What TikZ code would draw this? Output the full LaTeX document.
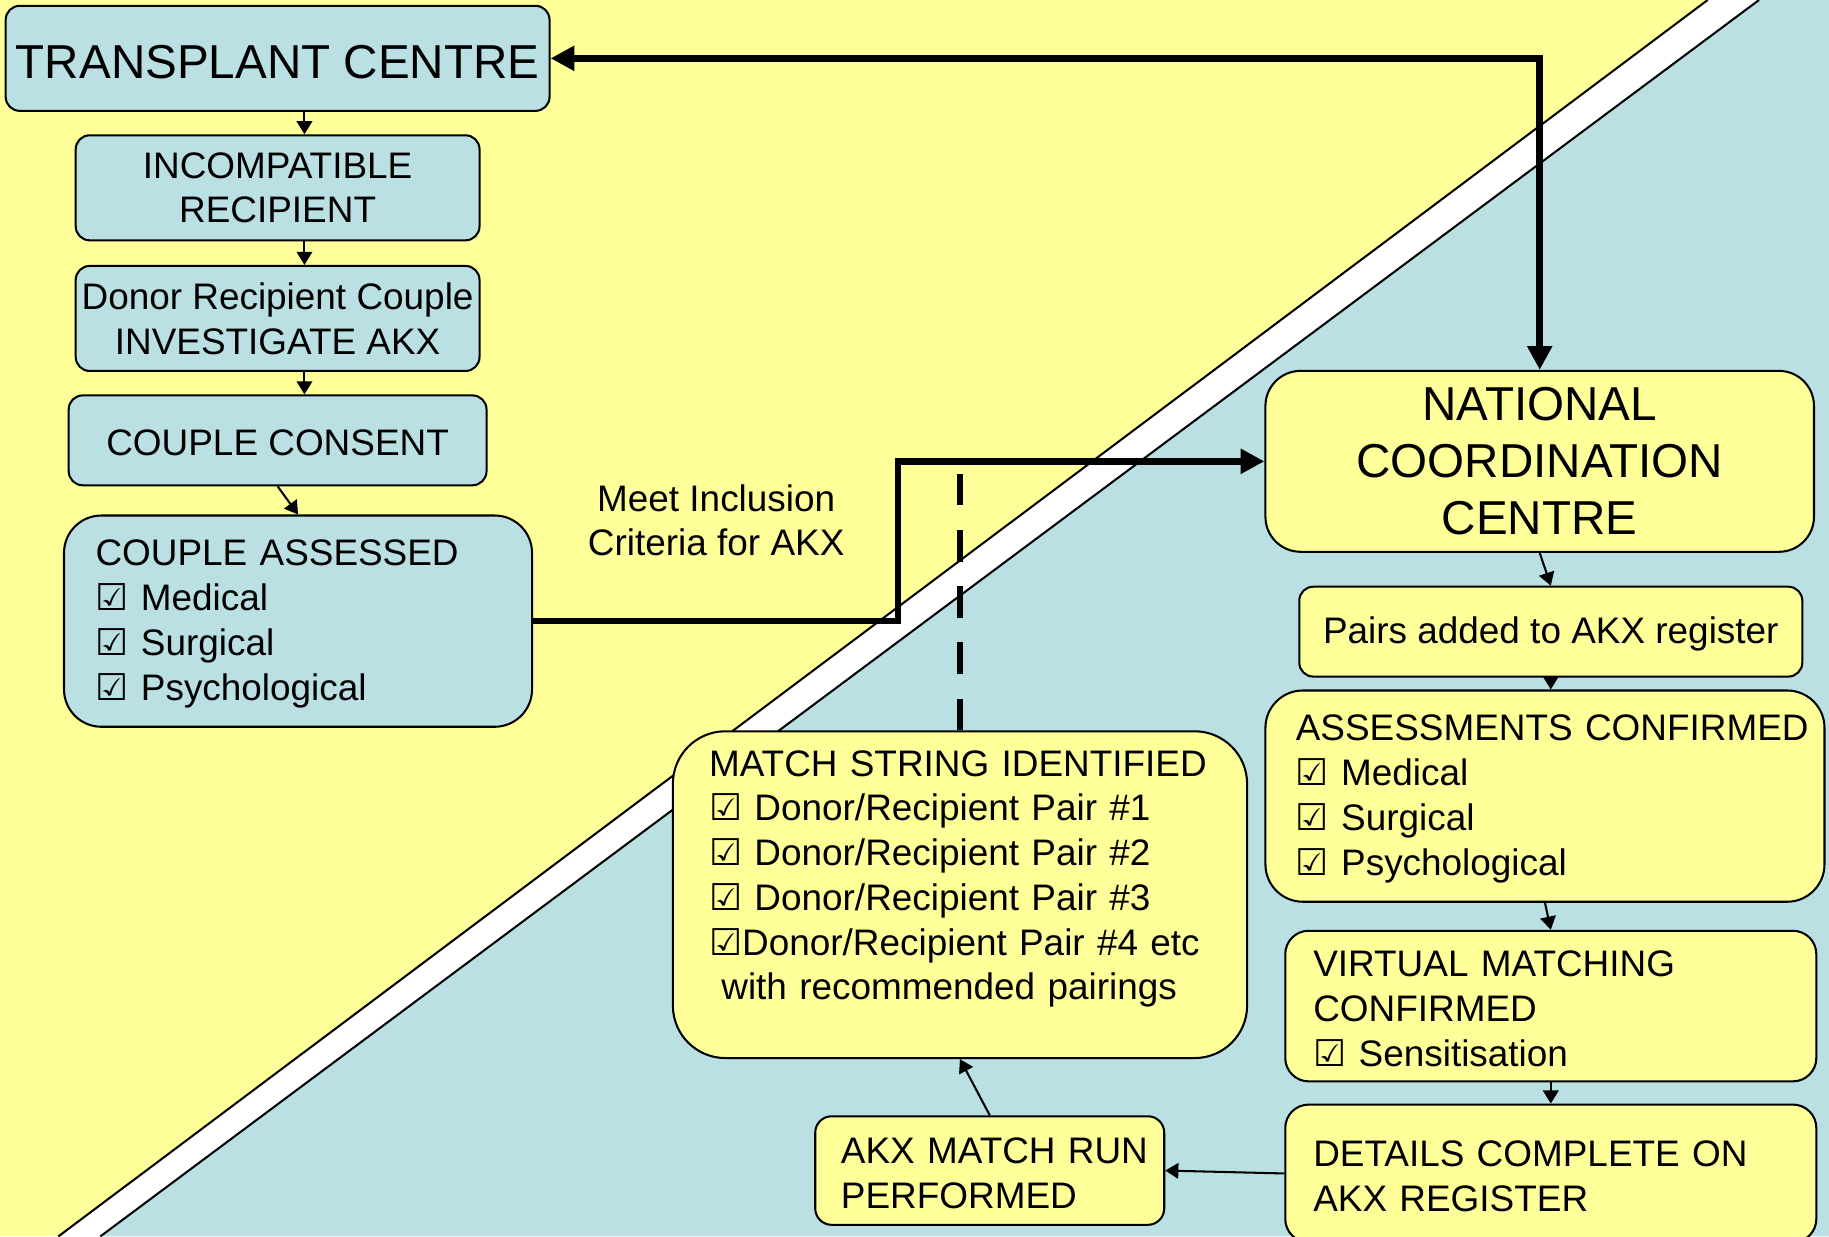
\documentclass[tikz,border=0pt]{standalone}
\usepackage{fontspec}
\setmainfont{Liberation Sans}
\newfontfamily\symfont{DejaVu Sans}
\usetikzlibrary{arrows.meta}
\definecolor{akxyellow}{RGB}{255,255,153}
\definecolor{akxblue}{RGB}{186,224,227}
\newcommand{\chk}{{\symfont\fontsize{9pt}{10.9pt}\selectfont ☑}}

\begin{document}
\begin{tikzpicture}[x=0.01cm, y=-0.01cm,
    every node/.style={font=\fontsize{9pt}{10.9pt}\selectfont,
        execute at begin node=\rule{0pt}{0.85em}},
    big/.style={font=\fontsize{11.6pt}{13.9pt}\selectfont},
    box/.style={draw, line width=0.5pt, rounded corners=0.12cm, inner sep=0pt, align=center},
    bluebox/.style={box, fill=akxblue},
    ylwbox/.style={box, fill=akxyellow},
    list/.style={align=left, text width=#1},
    sarr/.style={-{Triangle[length=3.2pt, width=3.8pt]}, line width=0.5pt},
    arr/.style={-{Triangle[length=5.8pt, width=5.8pt]}, line width=1.6pt},
    dashln/.style={line width=1.6pt, dash pattern=on 7.7pt off 6pt}
]
\clip (0,0) rectangle (1568,1060);
% Background
\fill[akxyellow] (0,0) rectangle (1568,1060);
\fill[akxblue] (86,1060) -- (1508,0) -- (1568,0) -- (1568,1060) -- cycle;
\fill[white] (50,1060) -- (1464,0) -- (1508,0) -- (86,1060) -- cycle;
\draw[line width=0.5pt] (50,1060) -- (1464,0) (86,1060) -- (1508,0);

% Transplant centre side
\node[bluebox, big, minimum width=4.66cm, minimum height=0.90cm] (tc) at (238,50) {TRANSPLANT CENTRE};
\node[bluebox, minimum width=3.46cm, minimum height=0.90cm] (incomp) at (238,161) {INCOMPATIBLE\\RECIPIENT};
\node[bluebox, minimum width=3.46cm, minimum height=0.90cm] (drc) at (238,273) {Donor Recipient Couple\\INVESTIGATE AKX};
\node[bluebox, minimum width=3.58cm, minimum height=0.77cm] (consent) at (238,377.5) {COUPLE CONSENT};
\node[bluebox, list=3.47cm, rounded corners=0.32cm, inner xsep=0.27cm, minimum width=4.01cm, minimum height=1.81cm] (assessed) at (255.5,532.5)
    {COUPLE ASSESSED\\\chk{} Medical\\\chk{} Surgical\\\chk{} Psychological};
\node[align=center] (incl) at (614,446) {Meet Inclusion\\Criteria for AKX};

% National coordination centre side
\node[ylwbox, big, rounded corners=0.30cm, minimum width=4.70cm, minimum height=1.55cm] (ncc) at (1320,395.5) {NATIONAL\\COORDINATION\\CENTRE};
\node[ylwbox, minimum width=4.31cm, minimum height=0.77cm] (pairs) at (1329.5,541.5) {Pairs added to AKX register};
\node[ylwbox, list=4.27cm, rounded corners=0.32cm, inner xsep=0.26cm, minimum width=4.79cm, minimum height=1.81cm] (confirmed) at (1324.5,682.5)
    {\mbox{ASSESSMENTS CONFIRMED}\\\chk{} Medical\\\chk{} Surgical\\\chk{} Psychological};
\node[ylwbox, list=4.07cm, rounded corners=0.2cm, inner xsep=0.24cm, minimum width=4.55cm, minimum height=1.29cm] (virtual) at (1329.5,862.5)
    {VIRTUAL MATCHING\\CONFIRMED\\\chk{} Sensitisation};
\node[ylwbox, list=4.07cm, rounded corners=0.2cm, inner xsep=0.24cm, minimum width=4.55cm, minimum height=1.18cm] (details) at (1329.5,1006)
    {DETAILS COMPLETE ON\\AKX REGISTER};
\node[ylwbox, list=2.55cm, rounded corners=0.14cm, inner xsep=0.22cm, minimum width=2.99cm, minimum height=0.93cm] (matchrun) at (848.5,1003.5)
    {\mbox{AKX MATCH RUN}\\PERFORMED};
\node[ylwbox, list=4.30cm, rounded corners=0.45cm, inner xsep=0.31cm, minimum width=4.92cm, minimum height=2.80cm] (string) at (823,767)
    {\mbox{MATCH STRING IDENTIFIED}\\\mbox{\chk{} Donor/Recipient Pair \#1}\\\mbox{\chk{} Donor/Recipient Pair \#2}\\\mbox{\chk{} Donor/Recipient Pair \#3}\\\mbox{\chk{}Donor/Recipient Pair \#4 etc}\\\mbox{ }with recommended pairings\\\mbox{}};

% Small arrows
\draw[sarr] ([xshift=0.23cm]tc.south) -- ([xshift=0.23cm]incomp.north);
\draw[sarr] ([xshift=0.23cm]incomp.south) -- ([xshift=0.23cm]drc.north);
\draw[sarr] ([xshift=0.23cm]drc.south) -- ([xshift=0.23cm]consent.north);
\draw[sarr] (consent.south) -- (assessed.north);
\draw[sarr] (ncc.south) -- (pairs.north);
\draw[sarr] (pairs.south) -- (pairs.south |- confirmed.north);
\draw[sarr] (confirmed.south) -- (virtual.north);
\draw[sarr] (virtual.south) -- (details.north);
\draw[sarr] (details.west) -- (matchrun.east);
\draw[sarr] (matchrun.north) -- (string.south);

% Thick arrows
\draw[arr] (assessed.east) -- (770,532.5) |- (ncc.west);
\draw[arr, {Triangle[length=5.8pt, width=5.8pt]}-{Triangle[length=5.8pt, width=5.8pt]}] (tc.east) -| (ncc.north);
\draw[dashln] (string.north) -- (string.north |- ncc.west);
\end{tikzpicture}
\end{document}
